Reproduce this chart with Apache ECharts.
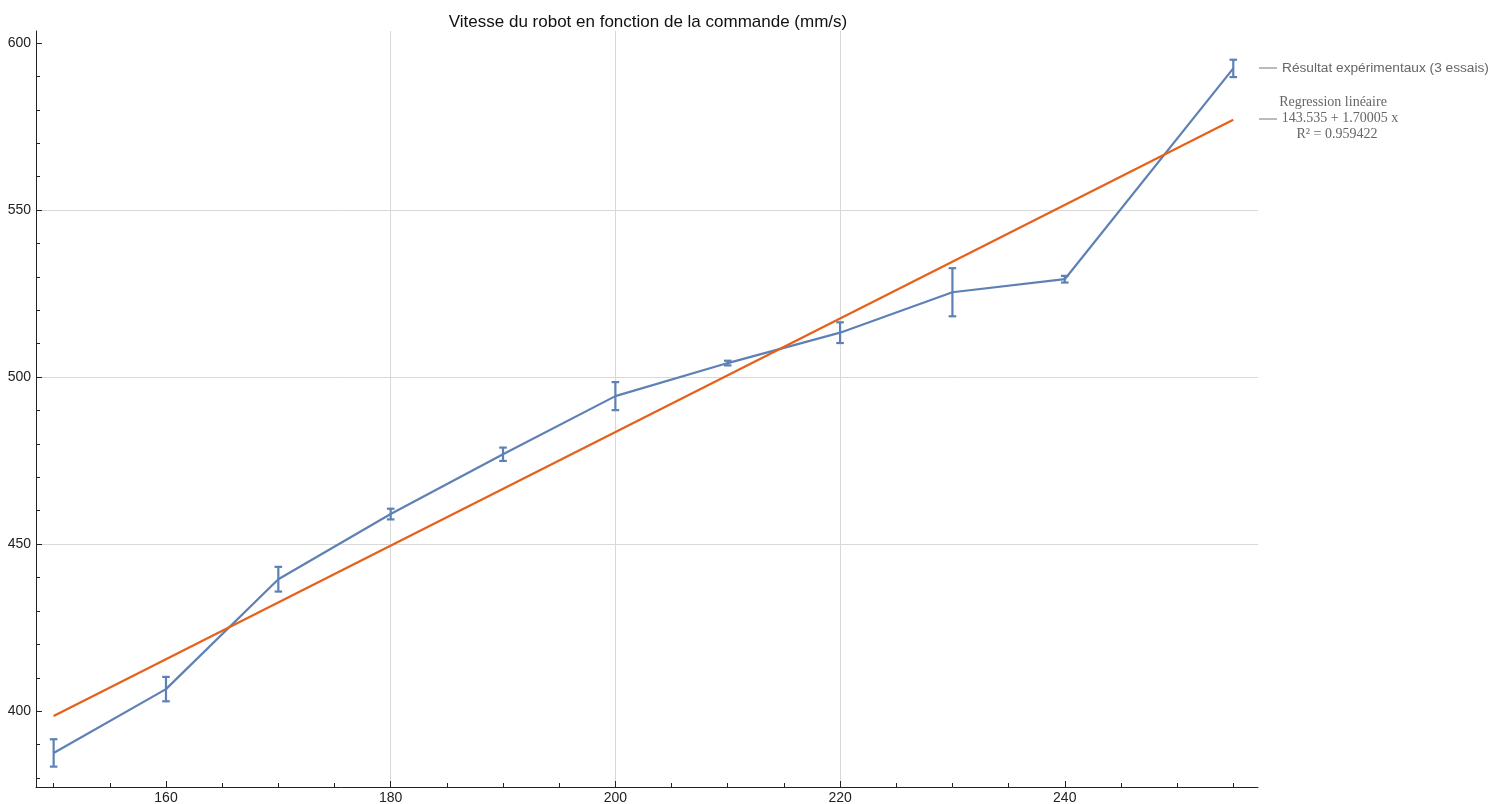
<!DOCTYPE html>
<html>
<head>
<meta charset="utf-8">
<script src="https://cdn.jsdelivr.net/npm/echarts@6/dist/echarts.min.js"></script>
<style>
html,body{margin:0;padding:0;background:#fff;}
#chart{width:1499px;height:804px;}
</style>
</head>
<body>
<div id="chart"></div>
<script>
// ---- data ----
var commande = [150, 160, 170, 180, 190, 200, 210, 220, 230, 240, 255];
var vitesse = [387.5, 406.6, 439.5, 459.0, 476.9, 494.3, 504.2, 513.3, 525.4, 529.3, 592.4];
var erreur = [4.1, 3.65, 3.7, 1.6, 2.0, 4.2, 0.7, 3.1, 7.2, 1.0, 2.6];
var regX = [150, 255];
var regY = [398.54, 577.05];
var xMajorTicks = [160, 180, 200, 220, 240];
var xMinorTicks = [150, 155, 165, 170, 175, 185, 190, 195, 205, 210, 215, 225, 230, 235, 245, 250, 255];
var yMajorTicks = [400, 450, 500, 550, 600];
var yMinorTicks = [380, 390, 410, 420, 430, 440, 460, 470, 480, 490, 510, 520, 530, 540, 560, 570, 580, 590];
var titre = 'Vitesse du robot en fonction de la commande (mm/s)';
var legende1 = 'Résultat expérimentaux (3 essais)';
var legende2 = ['Regression linéaire', '143.535 + 1.70005 x', 'R² = 0.959422'];

// ---- build ----
var lineData = commande.map(function (x, i) { return [x, vitesse[i]]; });
var errData = commande.map(function (x, i) { return [x, vitesse[i] - erreur[i], vitesse[i] + erreur[i]]; });
var regData = regX.map(function (x, i) { return [x, regY[i]]; });

var XMIN = 148.43, XMAX = 257.2, YMIN = 377.3, YMAX = 603.6;
var BLUE = '#5E81B5', ORANGE = '#E6601A';
var FONT = '"Liberation Sans", Arial, sans-serif';
var SERIF = '"Liberation Serif", "Times New Roman", serif';

function inList(list) { return function (v) { return list.indexOf(Math.round(v * 1000) / 1000) >= 0 ? String(v) : ''; }; }

var chart = echarts.init(document.getElementById('chart'), null, { renderer: 'canvas' });
chart.setOption({
  animation: false,
  backgroundColor: '#fff',
  title: {
    text: titre, left: 643, top: 9, textAlign: 'center',
    textStyle: { fontFamily: FONT, fontSize: 17, fontWeight: 'normal', color: '#111' }
  },
  grid: { left: 36, right: 241, top: 31, bottom: 17, containLabel: false, outerBoundsMode: 'none' },
  xAxis: [
    {
      type: 'value', min: XMIN, max: XMAX, interval: 20, position: 'bottom', offset: 0,
      axisLine: { show: true, lineStyle: { color: '#222', width: 1 } },
      axisTick: { show: true, inside: true, length: 6, customValues: xMajorTicks, lineStyle: { color: '#222' } },
      axisLabel: { show: true, customValues: xMajorTicks, formatter: inList(xMajorTicks), margin: 4,
        fontFamily: FONT, fontSize: 14, color: '#222' },
      splitLine: { show: true, showMinLine: false, showMaxLine: false, lineStyle: { color: '#d9d9d9', width: 1 } }
    },
    {
      type: 'value', min: XMIN, max: XMAX, interval: 5, position: 'bottom', offset: 0,
      axisLine: { show: false },
      axisTick: { show: true, inside: true, length: 4, customValues: xMinorTicks, lineStyle: { color: '#222' } },
      axisLabel: { show: false },
      splitLine: { show: false }
    }
  ],
  yAxis: [
    {
      type: 'value', min: YMIN, max: YMAX, interval: 50, position: 'left', offset: 0,
      axisLine: { show: true, lineStyle: { color: '#222', width: 1 } },
      axisTick: { show: true, inside: true, length: 6, customValues: yMajorTicks, lineStyle: { color: '#222' } },
      axisLabel: { show: true, customValues: yMajorTicks, formatter: inList(yMajorTicks), margin: 5,
        fontFamily: FONT, fontSize: 14, color: '#222' },
      splitLine: { show: true, showMinLine: false, showMaxLine: false, lineStyle: { color: '#d9d9d9', width: 1 } }
    },
    {
      type: 'value', min: YMIN, max: YMAX, interval: 10, position: 'left', offset: 0,
      axisLine: { show: false },
      axisTick: { show: true, inside: true, length: 4, customValues: yMinorTicks, lineStyle: { color: '#222' } },
      axisLabel: { show: false },
      splitLine: { show: false }
    }
  ],
  series: [
    {
      name: legende1, type: 'line', data: lineData, xAxisIndex: 0, yAxisIndex: 0,
      symbol: 'none', lineStyle: { color: BLUE, width: 2.2 }, z: 2
    },
    {
      type: 'custom', data: errData, xAxisIndex: 0, yAxisIndex: 0, z: 3,
      encode: { x: 0, y: [1, 2] },
      renderItem: function (params, api) {
        var x = api.value(0);
        var lo = api.coord([x, api.value(1)]);
        var hi = api.coord([x, api.value(2)]);
        var w = 3.8;
        var st = { stroke: BLUE, lineWidth: 2.2 };
        return {
          type: 'group',
          children: [
            { type: 'line', shape: { x1: lo[0], y1: lo[1], x2: hi[0], y2: hi[1] }, style: st },
            { type: 'line', shape: { x1: lo[0] - w, y1: lo[1], x2: lo[0] + w, y2: lo[1] }, style: st },
            { type: 'line', shape: { x1: hi[0] - w, y1: hi[1], x2: hi[0] + w, y2: hi[1] }, style: st }
          ]
        };
      }
    },
    {
      name: 'Regression', type: 'line', data: regData, xAxisIndex: 0, yAxisIndex: 0,
      symbol: 'none', lineStyle: { color: ORANGE, width: 2.2 }, z: 4
    }
  ],
  graphic: [
    { type: 'line', shape: { x1: 1259, y1: 68, x2: 1277, y2: 68 }, style: { stroke: '#777', lineWidth: 1 } },
    { type: 'text', x: 1282, y: 68, style: { text: legende1, fontFamily: FONT, fontSize: 13.7, fill: '#666', verticalAlign: 'middle', align: 'left' } },
    { type: 'line', shape: { x1: 1259, y1: 119, x2: 1277, y2: 119 }, style: { stroke: '#777', lineWidth: 1 } },
    { type: 'text', x: 1333, y: 102, style: { text: legende2[0], fontFamily: SERIF, fontSize: 14, fill: '#666', verticalAlign: 'middle', align: 'center' } },
    { type: 'text', x: 1340, y: 118, style: { text: legende2[1], fontFamily: SERIF, fontSize: 14, fill: '#666', verticalAlign: 'middle', align: 'center' } },
    { type: 'text', x: 1337, y: 134, style: { text: legende2[2], fontFamily: SERIF, fontSize: 14, fill: '#666', verticalAlign: 'middle', align: 'center' } }
  ]
});
</script>
</body>
</html>
